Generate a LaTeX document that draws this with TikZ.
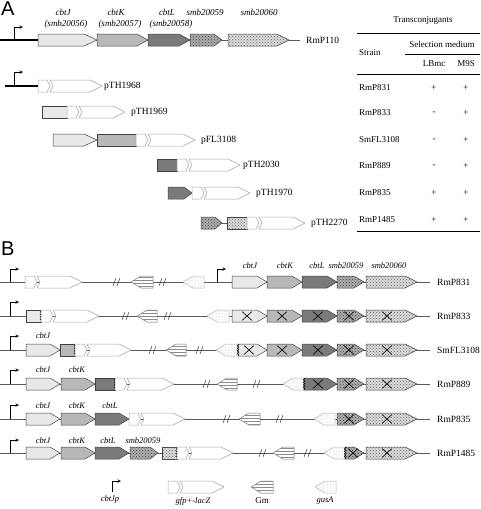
\documentclass[tikz,border=0pt]{standalone}
\usepackage{fontspec}
\setmainfont{Liberation Serif}
\newfontfamily\panelfont{Liberation Sans}
\usetikzlibrary{patterns,decorations.pathmorphing}

% gene shapes: style, x start, body end, tip, y
\newcommand{\genefwd}[5]{\draw[#1] (#2,{#5-6}) -- (#3,{#5-6}) -- (#4,#5) -- (#3,{#5+6}) -- (#2,{#5+6}) -- cycle;}
\newcommand{\generev}[5]{\draw[#1] (#2,#5) -- (#3,{#5-6}) -- (#4,{#5-6}) -- (#4,{#5+6}) -- (#3,{#5+6}) -- cycle;}
\newcommand{\genebox}[4]{\draw[#1] (#2,{#4-6}) rectangle (#3,{#4+6});}
% gfp+-lacZ fusion: start, tip, y
\newcommand{\reporter}[3]{%
 \draw[rep] (#1,{#3-6}) -- ({#1+9},{#3-6}) -- ({#1+12},#3) -- ({#1+9},{#3+6}) -- (#1,{#3+6}) -- cycle;
 \draw[rep] ({#1+12},{#3-6}) -- ({#2-12},{#3-6}) -- (#2,#3) -- ({#2-12},{#3+6}) -- ({#1+12},{#3+6}) -- ({#1+15},#3) -- cycle;}
\newcommand{\prom}[3]{\draw[->,line width=0.6pt] (#1,#2) -- (#1,#3) -- ({#1+9},#3);}
\newcommand{\brk}[2]{\draw[black!80,line width=0.5pt] ({#1-4},{#2+4}) -- ({#1-1},{#2-4}) ({#1},{#2+4}) -- ({#1+3},{#2-4});}
\newcommand{\ko}[2]{\draw[line width=0.6pt] ({#1-5},{#2-4.5}) -- ({#1+5},{#2+4.5}) ({#1-5},{#2+4.5}) -- ({#1+5},{#2-4.5});}
\newcommand{\jag}[2]{\draw[line width=0.5pt,decorate,decoration={zigzag,segment length=2.5pt,amplitude=1pt}] (#1,{#2-6}) -- (#1,{#2+6});}

\tikzset{
 cbtj/.style={draw=black!75, fill=black!9, line width=0.5pt},
 cbtk/.style={draw=black!75, fill=black!28, line width=0.5pt},
 cbtl/.style={draw=black!75, fill=black!52, line width=0.5pt},
 smbA/.style={draw=black!75, fill=black!32, line width=0.5pt, postaction={pattern=crosshatch dots, pattern color=black!75}},
 smbB/.style={draw=black!75, fill=black!14, line width=0.5pt, postaction={pattern=crosshatch dots, pattern color=black!60}},
 rep/.style={draw=black!35, fill=white, line width=0.5pt},
 gm/.style={draw=black!55, fill=white, line width=0.5pt, postaction={pattern=horizontal lines, pattern color=black!45}},
 gus/.style={draw=black!30, fill=white, line width=0.5pt, postaction={pattern=dots, pattern color=black!35}},
 bb/.style={draw=black!65, line width=0.6pt},
 rule/.style={line width=0.6pt},
 panel/.style={font=\panelfont\fontsize{20}{20}\selectfont, anchor=north west, inner sep=0pt},
 lbl/.style={font=\fontsize{9.5}{10}\selectfont, anchor=west, inner sep=0pt},
 tab/.style={font=\fontsize{9}{10}\selectfont, inner sep=0pt},
 gnA/.style={font=\fontsize{9}{10}\selectfont\itshape, inner sep=0pt},
 gnB/.style={font=\fontsize{8.5}{10}\selectfont\itshape, inner sep=0pt},
}

\begin{document}
\begin{tikzpicture}[x=1pt,y=-1pt,>=stealth,line join=round]
\useasboundingbox (0,0) rectangle (480,509);

%% panel A
\node[panel] (pA) at (1,2) {A};
\draw[line width=1.6pt] (0,40) -- (38,40);
\draw[bb] (38,40) -- (300,40);
\prom{14}{40}{27}
\genefwd{cbtj}{38}{84}{97}{40}
\genefwd{cbtk}{97}{137}{148}{40}
\genefwd{cbtl}{148}{179}{190}{40}
\genefwd{smbA}{190}{214}{222}{40}
\genefwd{smbB}{228}{277}{289}{40}
\node[gnA] (nJ) at (63,12) {cbtJ};
\node[gnA] (nJs) at (66,24) {(smb20056)};
\node[gnA] (nK) at (116,12) {cbtK};
\node[gnA] (nKs) at (120,24) {(smb20057)};
\node[gnA] (nL) at (167,12) {cbtL};
\node[gnA] (nLs) at (171,24) {(smb20058)};
\node[gnA] (n59) at (205,12) {smb20059};
\node[gnA] (n60) at (259,12) {smb20060};
\node[lbl] (p110) at (306,40) {RmP110};

% fusions
\draw[line width=1.6pt] (5,86) -- (38,86);
\prom{14}{86}{72}
\reporter{38}{102}{86}
\node[lbl] (p1968) at (104,86) {pTH1968};

\genebox{cbtj}{42}{67}{112}
\reporter{67}{125}{112}
\node[lbl] (p1969) at (131,112) {pTH1969};

\genefwd{cbtj}{53}{84}{97}{140}
\genebox{cbtk}{97}{136}{140}
\reporter{136}{195}{140}
\node[lbl] (p3108) at (201,140) {pFL3108};

\genebox{cbtl}{157}{177}{165}
\reporter{177}{240}{165}
\node[lbl] (p2030) at (243,165) {pTH2030};

\genefwd{cbtl}{168}{184}{192}{193}
\reporter{192}{250}{193}
\node[lbl] (p1970) at (256,193) {pTH1970};

\draw[bb] (222,223) -- (227,223);
\genefwd{smbA}{201}{215}{222}{223}
\genebox{smbB}{227}{247}{223}
\reporter{247}{305}{223}
\node[lbl] (p2270) at (311,223) {pTH2270};

% table
\node[tab] (tTrans) at (423,20) {Transconjugants};
\draw[rule] (357,33) -- (480,33);
\node[tab,anchor=west] (tStrain) at (359,53) {Strain};
\node[tab] (tSel) at (442,44) {Selection medium};
\draw[rule] (405,54) -- (480,54);
\node[tab] (tLB) at (434,64) {LBmc};
\node[tab] (tM9) at (466,64) {M9S};
\draw[rule] (357,74) -- (480,74);
\foreach \s/\y/\a/\b in {RmP831/88/+/+, RmP833/113/-/+, SmFL3108/140/-/+, RmP889/166/-/+, RmP835/193/+/+, RmP1485/220/+/+}{
 \node[tab,anchor=west] (s\s) at (359,\y) {\s};
 \node[tab] (lb\s) at (434,\y) {\a};
 \node[tab] (m9\s) at (466,\y) {\b};
}
\draw[rule] (357,231) -- (480,231);

%% panel B
\node[panel] (pB) at (1,242) {B};
\foreach \y in {282,316,350,384,419,453} \draw[bb] (0,\y) -- (430,\y);

% RmP831
\prom{10}{282}{269}
\reporter{25}{82}{282}
\brk{117}{282}
\generev{gm}{131}{141}{153}{282}
\brk{163}{282}
\generev{gus}{183}{193}{204}{282}
\prom{217}{282}{269}
\genefwd{cbtj}{232}{257}{267}{282}
\genefwd{cbtk}{267}{292}{302}{282}
\genefwd{cbtl}{302}{327}{337}{282}
\genefwd{smbA}{337}{354}{364}{282}
\genefwd{smbB}{366}{405}{417}{282}
\node[gnB] (bJ) at (250,266) {cbtJ};
\node[gnB] (bK) at (285,266) {cbtK};
\node[gnB] (bL) at (317,266) {cbtL};
\node[gnB] (b59) at (346,266) {smb20059};
\node[gnB] (b60) at (389,266) {smb20060};
\node[lbl] (r831) at (437,282) {RmP831};

% RmP833
\prom{10}{316}{302}
\genebox{cbtj}{26}{41}{316}
\jag{41}{316}
\reporter{41}{99}{316}
\brk{126}{316}
\generev{gm}{137}{147}{157}{316}
\brk{168}{316}
\generev{gus}{207}{217}{229}{316}
\genefwd{cbtj}{232}{257}{267}{316}
\genefwd{cbtk}{267}{292}{302}{316}
\genefwd{cbtl}{302}{327}{337}{316}
\genefwd{smbA}{337}{354}{364}{316}
\genefwd{smbB}{366}{405}{417}{316}
\ko{247}{316} \ko{282}{316} \ko{318}{316} \ko{349}{316} \ko{387}{316}
\node[lbl] (r833) at (437,316) {RmP833};

% SmFL3108
\prom{10}{350}{336}
\genefwd{cbtj}{26}{50}{60}{350}
\genebox{cbtk}{60}{75}{350}
\jag{75}{350}
\reporter{75}{131}{350}
\brk{153}{350}
\generev{gm}{166}{176}{186}{350}
\brk{200}{350}
\generev{gus}{216}{226}{237}{350}
\genefwd{cbtj}{238}{257}{267}{350}
\jag{238}{350}
\genefwd{cbtk}{267}{292}{302}{350}
\genefwd{cbtl}{302}{327}{337}{350}
\genefwd{smbA}{337}{354}{364}{350}
\genefwd{smbB}{366}{405}{417}{350}
\ko{249}{350} \ko{282}{350} \ko{318}{350} \ko{349}{350} \ko{387}{350}
\node[gnB] (cJ3) at (43,336) {cbtJ};
\node[lbl] (r3108) at (437,350) {SmFL3108};

% RmP889
\prom{10}{384}{370}
\genefwd{cbtj}{26}{50}{60}{384}
\genefwd{cbtk}{61}{85}{95}{384}
\genebox{cbtl}{95}{115}{384}
\jag{115}{384}
\reporter{115}{174}{384}
\brk{207}{384}
\generev{gm}{217}{227}{237}{384}
\brk{257}{384}
\generev{gus}{283}{293}{304}{384}
\genefwd{cbtl}{304}{327}{337}{384}
\jag{304}{384}
\genefwd{smbA}{337}{354}{364}{384}
\genefwd{smbB}{366}{405}{417}{384}
\ko{318}{384} \ko{349}{384} \ko{387}{384}
\node[gnB] (cJ4) at (43,370) {cbtJ};
\node[gnB] (cK4) at (77,370) {cbtK};
\node[lbl] (r889) at (437,384) {RmP889};

% RmP835
\prom{10}{419}{405}
\genefwd{cbtj}{26}{50}{60}{419}
\genefwd{cbtk}{61}{85}{95}{419}
\genefwd{cbtl}{95}{119}{129}{419}
\reporter{129}{185}{419}
\brk{227}{419}
\generev{gm}{239}{249}{260}{419}
\brk{280}{419}
\generev{gus}{314}{324}{335}{419}
\genefwd{smbA}{337}{354}{364}{419}
\genefwd{smbB}{366}{405}{417}{419}
\ko{349}{419} \ko{387}{419}
\node[gnB] (cJ5) at (43,406) {cbtJ};
\node[gnB] (cK5) at (77,406) {cbtK};
\node[gnB] (cL5) at (110,406) {cbtL};
\node[lbl] (r835) at (437,419) {RmP835};

% RmP1485
\prom{10}{453}{440}
\genefwd{cbtj}{26}{50}{60}{453}
\genefwd{cbtk}{61}{85}{95}{453}
\genefwd{cbtl}{95}{119}{129}{453}
\genefwd{smbA}{130}{150}{158}{453}
\genebox{smbB}{162}{177}{453}
\jag{177}{453}
\reporter{177}{233}{453}
\brk{263}{453}
\generev{gm}{273}{283}{294}{453}
\brk{308}{453}
\generev{gus}{324}{334}{345}{453}
\genefwd{smbA}{345}{354}{364}{453}
\jag{345}{453}
\genefwd{smbB}{366}{405}{417}{453}
\ko{353}{453} \ko{387}{453}
\node[gnB] (cJ6) at (43,441) {cbtJ};
\node[gnB] (cK6) at (77,441) {cbtK};
\node[gnB] (cL6) at (108,441) {cbtL};
\node[gnB] (c596) at (143,441) {smb20059};
\node[lbl] (r1485) at (437,453) {RmP1485};

% legend
\prom{112}{492}{481}
\node[gnB] (kP) at (110,499) {cbtJp};
\reporter{168}{224}{487}
\node[gnB] (kR) at (193,501) {gfp+-lacZ};
\generev{gm}{251}{261}{273}{487}
\node[tab] (kG) at (262,501) {Gm};
\generev{gus}{315}{325}{336}{487}
\node[gnB] (kU) at (325,501) {gusA};
\end{tikzpicture}
\end{document}
